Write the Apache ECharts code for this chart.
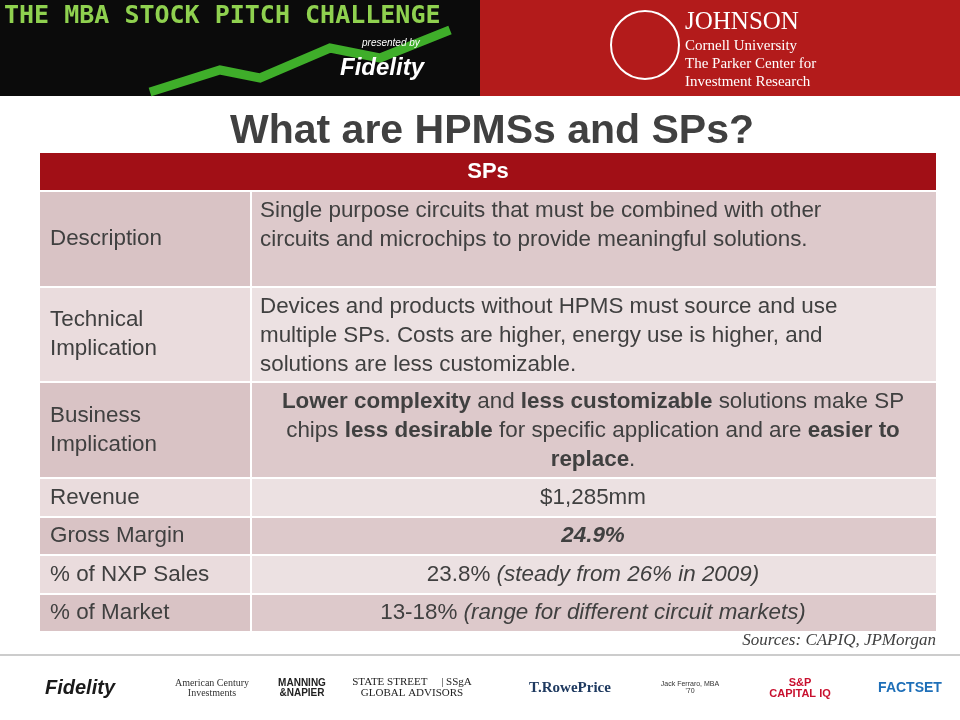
<!DOCTYPE html><html><head><meta charset="utf-8">
<script src="https://cdn.jsdelivr.net/npm/echarts@6/dist/echarts.min.js"></script>
<style>body{margin:0}#c{width:960px;height:720px}</style></head><body><div id="c"></div>
<script>
const title = "What are HPMSs and SPs?";
const tableHeader = "SPs";
const rowLabels = [["Description"],["Technical","Implication"],["Business","Implication"],["Revenue"],["Gross Margin"],["% of NXP Sales"],["% of Market"]];
const rowContents = [
 [[["Single purpose circuits that must be combined with other","n"]],[["circuits and microchips to provide meaningful solutions.","n"]]],
 [[["Devices and products without HPMS must source and use","n"]],[["multiple SPs. Costs are higher, energy use is higher, and","n"]],[["solutions are less customizable.","n"]]],
 [[["Lower complexity","b"],[" and ","n"],["less customizable","b"],[" solutions make SP","n"]],[["chips ","n"],["less desirable","b"],[" for specific application and are ","n"],["easier to","b"]],[["replace","b"],[".","n"]]],
 [[["$1,285mm","n"]]],
 [[["24.9%","bi"]]],
 [[["23.8% ","n"],["(steady from 26% in 2009)","i"]]],
 [[["13-18% ","n"],["(range for different circuit markets)","i"]]]
];
const rowAlign = ["left","left","center","center","center","center","center"];
const sources = "Sources: CAPIQ, JPMorgan";
const footerLogos = ["Fidelity","American Century Investments","MANNING & NAPIER","STATE STREET GLOBAL ADVISORS | SSgA","T.RowePrice","Jack Ferraro, MBA '70","S&P CAPITAL IQ","FACTSET"];

const chart = echarts.init(document.getElementById('c'));
const g = [];
g.push({type:'rect',shape:{x:0,y:0,width:480,height:96},style:{fill:'#0b0b0b'}});
g.push({type:'rect',shape:{x:480,y:0,width:480,height:96},style:{fill:'#b31b1b'}});
g.push({type:'polyline',shape:{points:[[150,92],[220,70],[260,78],[330,48],[380,58],[450,30]]},style:{stroke:'#3fae2a',lineWidth:9,fill:null}});
g.push({type:'text',x:4,y:4,style:{text:'THE MBA STOCK PITCH CHALLENGE',font:'bold 25px "DejaVu Sans Mono"',fill:'#8fd14f'}});
g.push({type:'text',x:362,y:38,style:{text:'presented by',font:'italic 10px "Liberation Sans"',fill:'#fff'}});
g.push({type:'text',x:340,y:56,style:{text:'Fidelity',font:'bold italic 24px "Liberation Sans"',fill:'#fff'}});
g.push({type:'circle',shape:{cx:645,cy:45,r:34},style:{fill:'none',stroke:'#fff',lineWidth:2}});
g.push({type:'text',x:685,y:10,style:{text:'JOHNSON',font:'25px "Liberation Serif"',fill:'#fff'}});
g.push({type:'text',x:685,y:37,style:{text:'Cornell University\nThe Parker Center for\nInvestment Research',font:'15px "Liberation Serif"',fill:'#fff',lineHeight:18}});
g.push({type:'text',x:492,y:132,style:{text:title,font:'bold 41px "Liberation Sans"',fill:'#404040',align:'center',verticalAlign:'middle'}});
const X0=40,X1=250,X2=936;
g.push({type:'rect',shape:{x:X0,y:153,width:X2-X0,height:37},style:{fill:'#a10f16'}});
g.push({type:'text',x:(X0+X2)/2,y:172,style:{text:tableHeader,font:'bold 22px "Liberation Sans"',fill:'#fff',align:'center',verticalAlign:'middle'}});
const rowH=[94,93,94,37,36,37,36];
let y=192;
const F='22.4px "Liberation Sans"';
const fonts={n:F,b:'bold '+F,i:'italic '+F,bi:'bold italic '+F};
const rich={};for(const k in fonts)rich[k]={font:fonts[k],fill:'#404040'};
rowContents.forEach((lines,i)=>{
  const h=rowH[i];const dark=i%2===0;
  g.push({type:'rect',shape:{x:X0,y:y,width:X1-X0,height:h},style:{fill:dark?'#d9c3c5':'#eadcdd'}});
  g.push({type:'rect',shape:{x:X1+2,y:y,width:X2-X1-2,height:h},style:{fill:dark?'#ddc9cb':'#ece1e2'}});
  g.push({type:'text',x:X0+10,y:y+h/2,style:{text:rowLabels[i].join('\n'),font:F,fill:'#404040',verticalAlign:'middle',lineHeight:29}});
  const txt=lines.map(l=>l.map(s=>'{'+s[1]+'|'+s[0]+'}').join('')).join('\n');
  const left=rowAlign[i]==='left';
  const ty = h>50 ? y+4 : y+h/2;
  g.push({type:'text',x:left?X1+10:(X1+X2)/2,y:ty,style:{text:txt,rich:rich,align:left?'left':'center',verticalAlign:h>50?'top':'middle',lineHeight:29,font:F,fill:'#404040'}});
  y+=h+2;
});
g.push({type:'text',x:936,y:641,style:{text:sources,font:'italic 17px "Liberation Serif"',fill:'#404040',align:'right',verticalAlign:'middle'}});
g.push({type:'line',shape:{x1:0,y1:655,x2:960,y2:655},style:{stroke:'#999',lineWidth:1}});
const fx=[80,212,302,412,570,690,800,910];
const ff=['bold italic 20px "Liberation Sans"','10px "Liberation Serif"','bold 10px "Liberation Sans"','11px "Liberation Serif"','bold 15px "Liberation Serif"','7px "Liberation Sans"','bold 11px "Liberation Sans"','bold 14px "Liberation Sans"'];
const fc=['#1a1a1a','#333','#222','#222','#1f3a60','#333','#c8102e','#1e6fb8'];
footerLogos.forEach((t,i)=>{
  let s=t;
  if(i===1)s='American Century\nInvestments';if(i===2)s='MANNING\n&NAPIER';if(i===3)s='STATE STREET     | SSgA\nGLOBAL ADVISORS';if(i===5)s='Jack Ferraro, MBA\n\'70';if(i===6)s='S&P\nCAPITAL IQ';
  g.push({type:'text',x:fx[i],y:688,style:{text:s,font:ff[i],fill:fc[i],align:'center',verticalAlign:'middle'}});
});
chart.setOption({graphic:{elements:g}});
</script></body></html>
